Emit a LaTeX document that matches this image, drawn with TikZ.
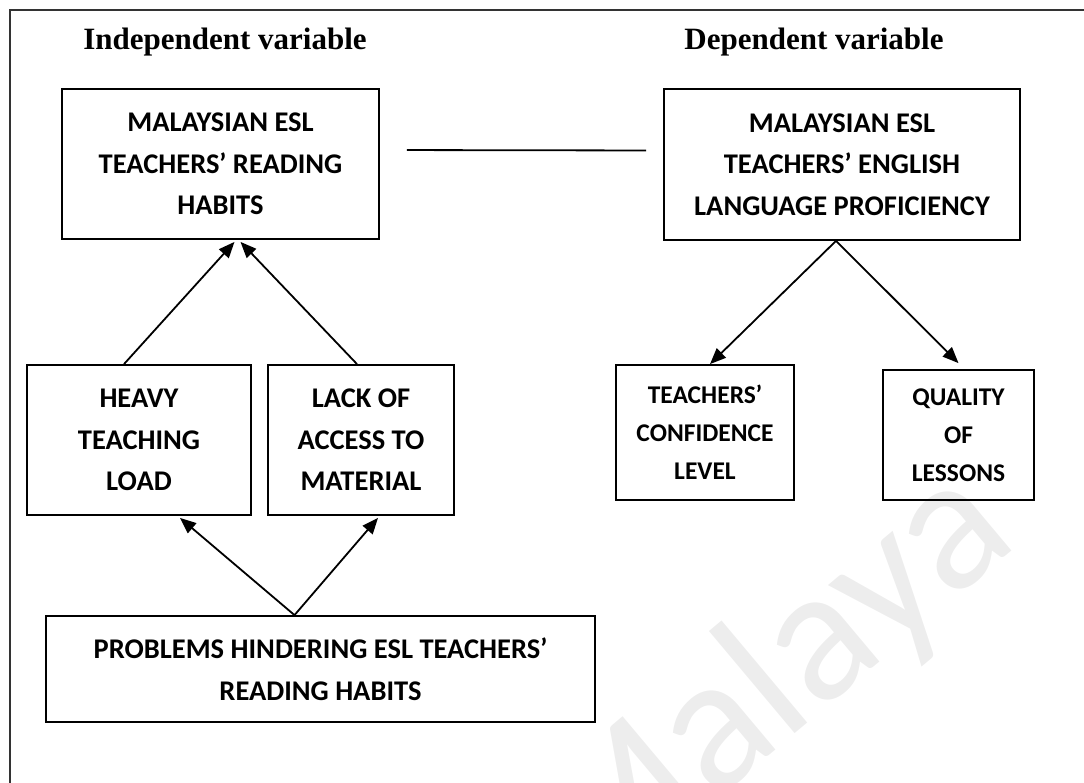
\documentclass[tikz,border=0pt]{standalone}
\usepackage{fontspec}
\usepackage{tikz}
\usetikzlibrary{arrows.meta, positioning}
\newfontfamily\boxfont{Carlito}
\newfontfamily\headfont{Liberation Serif}

\begin{document}
\begin{tikzpicture}[x=1pt, y=-1pt,
            varbox/.style ={rectangle, draw=black, line width=1.8pt, inner sep=0pt, align=center,
                            font=\boxfont\bfseries\fontsize{28.5}{41.5}\selectfont},
            smallbox/.style={varbox, font=\boxfont\bfseries\fontsize{25.5}{38}\selectfont},
            heading/.style ={anchor=base, inner sep=0pt, font=\headfont\bfseries\fontsize{31}{36}\selectfont},
            arr/.style     ={-{Triangle[length=16pt, width=13pt]}, line width=1.8pt},
            link/.style    ={line width=1.8pt}
        ]
            \useasboundingbox (0,0) rectangle (1084,782);

            % --- Marca de agua ---
            \node[rotate=40, text=black!7, font=\boxfont\fontsize{192}{192}\selectfont, inner sep=0pt]
                (marca) at (772,686) {Malaya};

            % --- Marco exterior ---
            \draw[line width=1.8pt, black!80] (10,10) rectangle (1100,800);

            % --- Titulos ---
            \node[heading] (indep) at (225,49) {Independent variable};
            \node[heading] (dep)   at (814,49) {Dependent variable};

            % --- Columna izquierda ---
            \node[varbox, minimum width=317pt, minimum height=150pt] (habits) at (220.5,164)
                {MALAYSIAN ESL\\TEACHERS’ READING\\HABITS};
            \node[varbox, minimum width=224pt, minimum height=150pt] (heavy) at (139,440)
                {HEAVY\\TEACHING\\LOAD};
            \node[varbox, minimum width=186pt, minimum height=150pt] (lack) at (361,440)
                {LACK OF\\ACCESS TO\\MATERIAL};
            \node[varbox, minimum width=549pt, minimum height=106pt] (problems) at (320.5,669)
                {PROBLEMS HINDERING ESL TEACHERS’\\READING HABITS};

            % --- Columna derecha ---
            \node[varbox, minimum width=356pt, minimum height=151pt] (proficiency) at (842,164.5)
                {MALAYSIAN ESL\\TEACHERS’ ENGLISH\\LANGUAGE PROFICIENCY};
            \node[smallbox, minimum width=178pt, minimum height=135pt] (confidence) at (705,432.5)
                {TEACHERS’\\CONFIDENCE\\LEVEL};
            \node[smallbox, minimum width=151pt, minimum height=130pt] (quality) at (958.5,435)
                {QUALITY\\OF\\LESSONS};

            % --- Enlaces ---
            \draw[link, shorten <=27pt, shorten >=17pt] ([yshift=14pt]habits.east) -- ([yshift=14pt]proficiency.west);

            \draw[arr] ([xshift=-15pt]heavy.north) -- ([xshift=14pt,yshift=-2pt]habits.south);
            \draw[arr] ([xshift=-4pt]lack.north)   -- ([xshift=20pt,yshift=-2pt]habits.south);

            \draw[arr] ([xshift=-26pt]problems.north) -- ([xshift=41pt,yshift=-2pt]heavy.south);
            \draw[arr] ([xshift=-26pt]problems.north) -- ([xshift=17pt,yshift=-2pt]lack.south);

            \draw[arr] ([xshift=-6pt]proficiency.south) -- ([xshift=5pt]confidence.north);
            \draw[arr] ([xshift=-6pt]proficiency.south) -- ([yshift=6pt]quality.north);
        \end{tikzpicture}
\end{document}
